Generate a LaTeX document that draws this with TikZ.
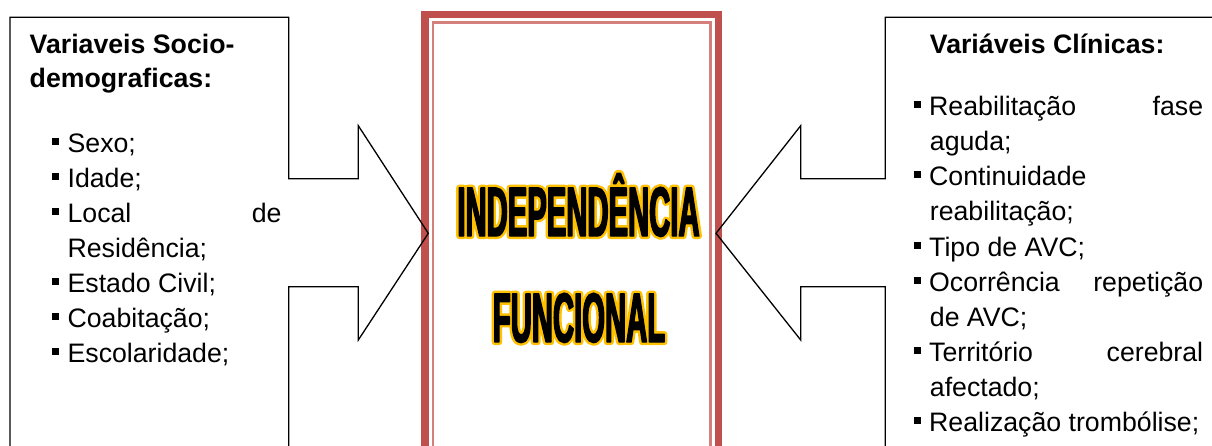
\documentclass[tikz,border=0pt]{standalone}
\usepackage{fontspec}
\setmainfont{Liberation Sans}
\newfontfamily\wordrim[FakeStretch=0.418, FakeBold=9]{Liberation Sans Bold}
\newfontfamily\wordbody[FakeStretch=0.418, FakeBold=2]{Liberation Sans Bold}
\usepackage{tikz}
\usetikzlibrary{calc}
\definecolor{frame_red}{HTML}{C0504D}
\definecolor{frame_pink}{HTML}{D47F7C}
\definecolor{word_gold}{HTML}{FFC000}
\newcommand{\sqbullet}{\raisebox{7pt}{\rule{7.3pt}{7.3pt}}\hspace{8.4pt}}

\tikzset{
  txt/.style={anchor=base west, inner sep=0, font=\fontsize{26.7}{35}\selectfont},
  ttl/.style={txt, font=\fontsize{26.7}{35}\selectfont\bfseries},
  rimtxt/.style={anchor=base, inner sep=0, text=word_gold, line join=round, font=\fontsize{70}{70}\wordrim},
  bigtxt/.style={anchor=base, inner sep=0, line join=round, font=\fontsize{70}{70}\wordbody},
  callout/.style={draw=black, line width=1.3pt, line join=miter},
}

\begin{document}
\begin{tikzpicture}[x=1pt, y=-1pt]
      \useasboundingbox (0,0) rectangle (1212,445);
      \clip (0,0) rectangle (1212,445);
      \fill[white] (0,0) rectangle (1212,445);

      % central frame
      \draw[frame_red, line width=7.3pt] (425,14.7) rectangle (718.8,480);
      \draw[frame_pink, line width=2.5pt] (433,22.5) rectangle (710.5,480);

      % callouts
      \draw[callout] (10,460) -- (10,17.3) -- (288.7,17.3) -- (288.7,178.7) -- (358.3,178.7)
        -- (358.3,125.7) -- (428.3,233.3) -- (358.3,340) -- (358.3,286.7) -- (288.7,286.7) -- (288.7,460);
      \draw[callout] (885.3,460) -- (885.3,286.7) -- (800.7,286.7) -- (800.7,340) -- (716,233.3)
        -- (800.7,125.7) -- (800.7,178.7) -- (885.3,178.7) -- (885.3,17.3) -- (1230,17.3) -- (1230,460);

      % left box
      \node[ttl] (soc-t1) at (29.5,53) {Variaveis Socio-};
      \node[ttl] (soc-t2) at (29.5,87.5) {demograficas:};
      \node[txt] (soc-1) at (51.7,152) {\sqbullet Sexo;};
      \node[txt] (soc-2) at (51.7,187) {\sqbullet Idade;};
      \node[txt] (soc-3) at (51.7,222) {\sqbullet\hbox to 214pt{Local\hfill de}};
      \node[txt] (soc-3b) at (67.4,257) {Residência;};
      \node[txt] (soc-4) at (51.7,292) {\sqbullet Estado Civil;};
      \node[txt] (soc-5) at (51.7,327) {\sqbullet Coabitação;};
      \node[txt] (soc-6) at (51.7,362) {\sqbullet Escolaridade;};

      % right box
      \node[ttl] (cli-t) at (929.7,53) {Variáveis Clínicas:};
      \node[txt] (cli-1) at (913.3,115) {\sqbullet\hbox to 274pt{Reabilitação\hfill fase}};
      \node[txt] (cli-1b) at (929.7,150) {aguda;};
      \node[txt] (cli-2) at (913.3,185) {\sqbullet Continuidade};
      \node[txt] (cli-2b) at (929.7,220) {reabilitação;};
      \node[txt] (cli-3) at (913.3,256) {\sqbullet Tipo de AVC;};
      \node[txt] (cli-4) at (913.3,291) {\sqbullet\hbox to 274pt{Ocorrência\hfill repetição}};
      \node[txt] (cli-4b) at (929.7,326) {de AVC;};
      \node[txt] (cli-5) at (913.3,361) {\sqbullet\hbox to 274pt{Território\hfill cerebral}};
      \node[txt] (cli-5b) at (929.7,396) {afectado;};
      \node[txt] (cli-6) at (913.3,431) {\sqbullet Realização trombólise;};

      % title in the frame: gold rim under black body
      \node[rimtxt] (indep-rim) at (578.5,236) {INDEPENDÊNCIA};
      \node[bigtxt] (indep) at (578.5,236) {INDEPENDÊNCIA};
      \node[rimtxt] (func-rim) at (579,342) {FUNCIONAL};
      \node[bigtxt] (func) at (579,342) {FUNCIONAL};
    \end{tikzpicture}
\end{document}
